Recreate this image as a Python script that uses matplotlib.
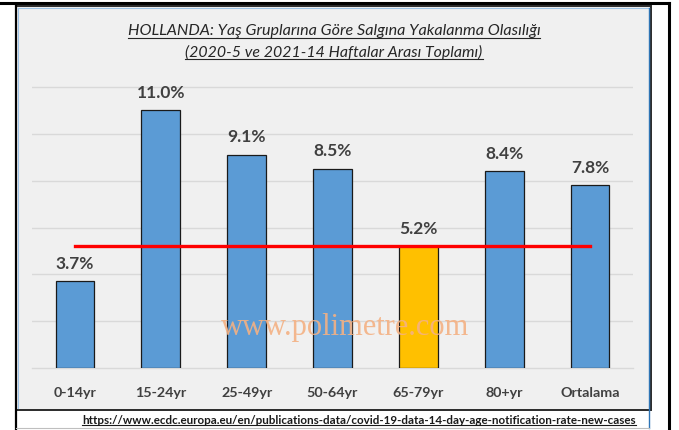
import matplotlib
matplotlib.use("Agg")
import matplotlib.pyplot as plt
from matplotlib.patches import Rectangle
from matplotlib.lines import Line2D

categories = ["0-14yr", "15-24yr", "25-49yr", "50-64yr", "65-79yr", "80+yr", "Ortalama"]
values = [3.7, 11.0, 9.1, 8.5, 5.2, 8.4, 7.8]
value_labels = ["3.7%", "11.0%", "9.1%", "8.5%", "5.2%", "8.4%", "7.8%"]
reference_value = 5.2
highlight = "65-79yr"
title_lines = ["HOLLANDA: Yaş Gruplarına Göre Salgına Yakalanma Olasılığı",
               "(2020-5 ve 2021-14 Haftalar Arası Toplamı)"]
source_url = "https://www.ecdc.europa.eu/en/publications-data/covid-19-data-14-day-age-notification-rate-new-cases"
watermark = "www.polimetre.com"

W, H = 679, 430
fig = plt.figure(figsize=(W / 100, H / 100), dpi=100)
fig.patch.set_facecolor("white")

# background / frame axes in pixel coordinates
bg = fig.add_axes([0, 0, 1, 1])
bg.set_xlim(0, W)
bg.set_ylim(H, 0)
bg.axis("off")
bg.add_patch(Rectangle((16, 6), 635, 404, facecolor="#f0f0f0", edgecolor="#2a2a2a", lw=1.4))
bg.add_line(Line2D([18, 18], [8, 408], color="#9dc3e6", lw=0.8))
bg.add_line(Line2D([18, 649], [8, 8], color="#9dc3e6", lw=0.8))
bg.add_line(Line2D([649, 649], [8, 428], color="#2e75b6", lw=1.0))
bg.add_line(Line2D([16, 16], [6, 430], color="black", lw=1.6))
bg.add_line(Line2D([0, 669], [2.5, 2.5], color="black", lw=2.2))
bg.add_line(Line2D([669, 669], [2.5, 430], color="black", lw=2.2))
bg.add_line(Line2D([16, 649], [428, 428], color="#bfbfbf", lw=0.8))

ax = fig.add_axes([32 / W, 1 - 368 / H, 601 / W, (368 - 75.3) / H])
ax.set_facecolor("none")
x = list(range(len(categories)))
colors = ["#ffc000" if c == highlight else "#5b9bd5" for c in categories]
ax.bar(x, values, width=0.45, color=colors, edgecolor="#1a1a1a", linewidth=0.9, zorder=3)
ax.set_xlim(-0.5, len(categories) - 0.5)
ax.set_ylim(0, 12.5)
ax.set_yticks([2, 4, 6, 8, 10, 12])
ax.yaxis.grid(True, color="#d9d9d9", lw=1.0, zorder=0)
ax.tick_params(axis="y", left=False, labelleft=False)
ax.tick_params(axis="x", bottom=False, pad=10)
for s in ["top", "right", "left"]:
    ax.spines[s].set_visible(False)
ax.spines["bottom"].set_color("#d9d9d9")
ax.spines["bottom"].set_linewidth(1.0)
ax.set_xticks(x)
ax.set_xticklabels(categories, fontsize=10.3, fontweight="bold", color="#404040", family="Lato")

for xi, v, lab in zip(x, values, value_labels):
    ax.annotate(lab, (xi, v), xytext=(0, 7), textcoords="offset points", ha="center",
                va="bottom", fontsize=12.5, fontweight="bold", color="#404040", family="Lato")

ax.plot([x[0], x[-1]], [reference_value, reference_value], color="#ff0000", lw=2.4, zorder=4)

# watermark (figure-level, drawn above the bars)
fig.text(345 / W, 1 - 327 / H, watermark, ha="center", va="center", fontsize=22,
         family="Liberation Serif", color="#f4b183", alpha=0.9, zorder=10)

t1 = bg.text(334, 31, title_lines[0], ha="center", va="center", fontsize=11.6, style="italic",
             color="#262626", family="Lato")
t2 = bg.text(334, 52, title_lines[1], ha="center", va="center", fontsize=11.4, style="italic",
             color="#262626", family="Lato")
t3 = bg.text(636, 420, source_url, ha="right", va="center", fontsize=8.4, fontweight="bold",
             color="#1a1a1a", family="Lato")

fig.canvas.draw()
r = fig.canvas.get_renderer()
inv = bg.transData.inverted()
for t, lw in [(t1, 0.8), (t2, 0.8), (t3, 0.8)]:
    bb = t.get_window_extent(r)
    (x0, y0), (x1, y1) = inv.transform([[bb.x0, bb.y0], [bb.x1, bb.y1]])
    bg.add_line(Line2D([x0, x1], [y0 - 0.5, y0 - 0.5], color=t.get_color(), lw=lw))

fig.savefig("out.png", dpi=100, facecolor="white")
